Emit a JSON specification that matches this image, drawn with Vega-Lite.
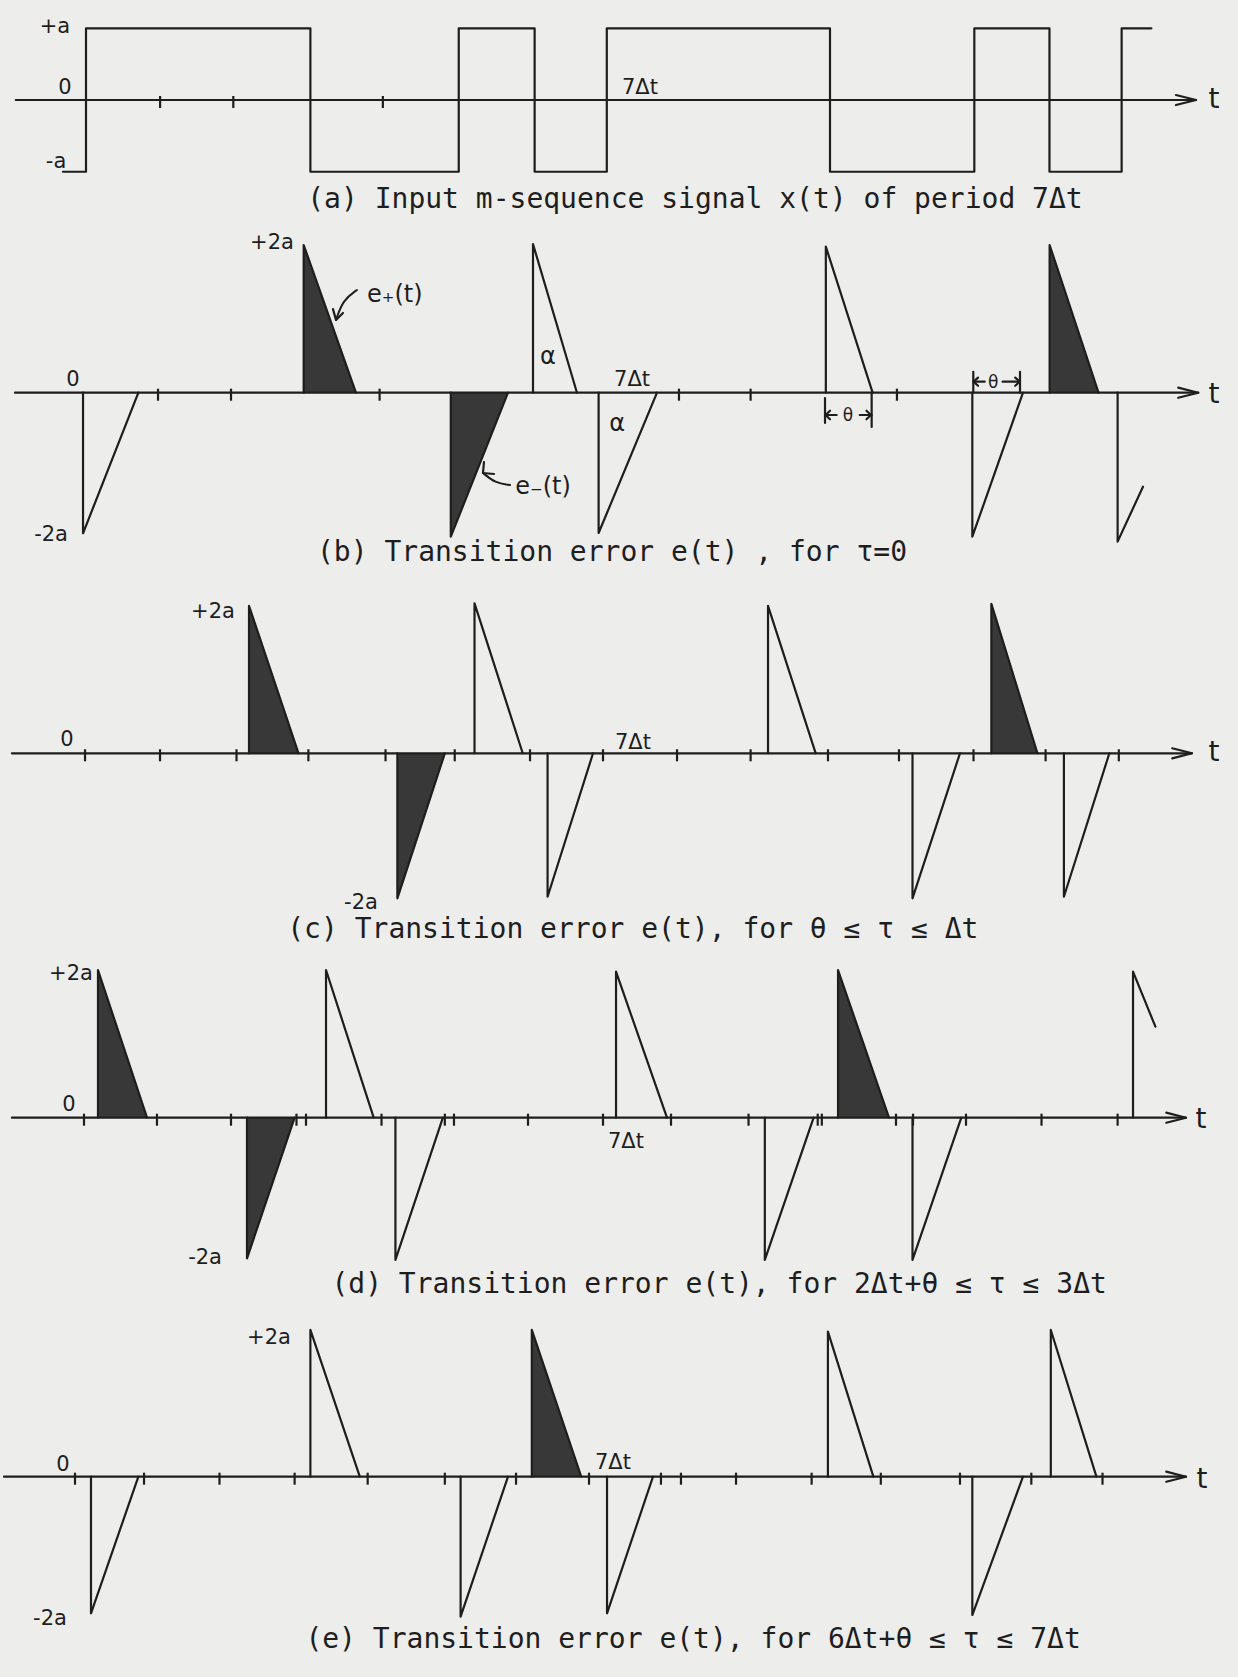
{
 "$schema": "https://vega.github.io/schema/vega-lite/v6.json",
 "background": "#ededeb",
 "padding": 0,
 "spacing": 0,
 "bounds": "flush",
 "resolve": {"scale": {"x": "independent", "y": "independent"}},
 "config": {"view": {"stroke": null}},
 "datasets": {
  "lines": [
   {"p":"a","id":"sq","o":1,"t":-0.31,"v":-1},{"p":"a","id":"sq","o":2,"t":0,"v":-1},{"p":"a","id":"sq","o":3,"t":0,"v":1},{"p":"a","id":"sq","o":4,"t":3.016,"v":1},{"p":"a","id":"sq","o":5,"t":3.016,"v":-1},{"p":"a","id":"sq","o":6,"t":5.01,"v":-1},{"p":"a","id":"sq","o":7,"t":5.01,"v":1},{"p":"a","id":"sq","o":8,"t":6.03,"v":1},{"p":"a","id":"sq","o":9,"t":6.03,"v":-1},{"p":"a","id":"sq","o":10,"t":7.0,"v":-1},{"p":"a","id":"sq","o":11,"t":7.0,"v":1},{"p":"a","id":"sq","o":12,"t":10.0,"v":1},{"p":"a","id":"sq","o":13,"t":10.0,"v":-1},{"p":"a","id":"sq","o":14,"t":11.94,"v":-1},{"p":"a","id":"sq","o":15,"t":11.94,"v":1},{"p":"a","id":"sq","o":16,"t":12.95,"v":1},{"p":"a","id":"sq","o":17,"t":12.95,"v":-1},{"p":"a","id":"sq","o":18,"t":13.92,"v":-1},{"p":"a","id":"sq","o":19,"t":13.92,"v":1},{"p":"a","id":"sq","o":20,"t":14.32,"v":1},
   {"p":"a","id":"ax","o":1,"t":-0.944,"v":0},{"p":"a","id":"ax","o":2,"t":14.92,"v":0},
   {"p":"a","id":"ar","o":1,"t":14.65,"v":0.07},{"p":"a","id":"ar","o":2,"t":14.92,"v":0},{"p":"a","id":"ar","o":3,"t":14.65,"v":-0.07},

   {"p":"b","id":"b1","o":1,"t":-0.04,"v":0},{"p":"b","id":"b1","o":2,"t":-0.04,"v":-1.953},{"p":"b","id":"b1","o":3,"t":0.704,"v":0},
   {"p":"b","id":"b2","o":1,"t":2.926,"v":0},{"p":"b","id":"b2","o":2,"t":2.926,"v":2.051},{"p":"b","id":"b2","o":3,"t":3.628,"v":0},
   {"p":"b","id":"b3","o":1,"t":4.903,"v":0},{"p":"b","id":"b3","o":2,"t":4.903,"v":-2.0},{"p":"b","id":"b3","o":3,"t":5.672,"v":0},
   {"p":"b","id":"b4","o":1,"t":6.008,"v":0},{"p":"b","id":"b4","o":2,"t":6.008,"v":2.065},{"p":"b","id":"b4","o":3,"t":6.599,"v":0},
   {"p":"b","id":"b5","o":1,"t":6.89,"v":0},{"p":"b","id":"b5","o":2,"t":6.89,"v":-1.949},{"p":"b","id":"b5","o":3,"t":7.675,"v":0},
   {"p":"b","id":"b6","o":1,"t":9.944,"v":0},{"p":"b","id":"b6","o":2,"t":9.944,"v":2.028},{"p":"b","id":"b6","o":3,"t":10.573,"v":0},
   {"p":"b","id":"b7","o":1,"t":11.913,"v":0},{"p":"b","id":"b7","o":2,"t":11.913,"v":-2.0},{"p":"b","id":"b7","o":3,"t":12.594,"v":0},
   {"p":"b","id":"b8","o":1,"t":12.952,"v":0},{"p":"b","id":"b8","o":2,"t":12.952,"v":2.051},{"p":"b","id":"b8","o":3,"t":13.609,"v":0},
   {"p":"b","id":"b9","o":1,"t":13.866,"v":0},{"p":"b","id":"b9","o":2,"t":13.866,"v":-2.069},{"p":"b","id":"b9","o":3,"t":14.207,"v":-1.306},
   {"p":"b","id":"ax","o":1,"t":-0.954,"v":0},{"p":"b","id":"ax","o":2,"t":14.95,"v":0},
   {"p":"b","id":"ar","o":1,"t":14.68,"v":0.07},{"p":"b","id":"ar","o":2,"t":14.95,"v":0},{"p":"b","id":"ar","o":3,"t":14.68,"v":-0.07},
   {"p":"b","id":"epb","o":1,"t":3.32,"v":1.161},{"p":"b","id":"epb","o":2,"t":3.36,"v":1.01},{"p":"b","id":"epb","o":3,"t":3.454,"v":1.107},
   {"p":"b","id":"emb","o":1,"t":5.349,"v":-0.963},{"p":"b","id":"emb","o":2,"t":5.336,"v":-1.115},{"p":"b","id":"emb","o":3,"t":5.484,"v":-1.129},
   {"p":"b","id":"tl1","o":1,"t":9.933,"v":-0.074},{"p":"b","id":"tl1","o":2,"t":9.933,"v":-0.42},
   {"p":"b","id":"tl2","o":1,"t":10.56,"v":0},{"p":"b","id":"tl2","o":2,"t":10.56,"v":-0.476},
   {"p":"b","id":"tl3","o":1,"t":9.933,"v":-0.31},{"p":"b","id":"tl3","o":2,"t":10.09,"v":-0.31},
   {"p":"b","id":"tl4","o":1,"t":10.4,"v":-0.31},{"p":"b","id":"tl4","o":2,"t":10.56,"v":-0.31},
   {"p":"b","id":"tl5","o":1,"t":10.0,"v":-0.25},{"p":"b","id":"tl5","o":2,"t":9.94,"v":-0.31},{"p":"b","id":"tl5","o":3,"t":10.0,"v":-0.37},
   {"p":"b","id":"tl6","o":1,"t":10.49,"v":-0.25},{"p":"b","id":"tl6","o":2,"t":10.55,"v":-0.31},{"p":"b","id":"tl6","o":3,"t":10.49,"v":-0.37},
   {"p":"b","id":"tu1","o":1,"t":11.926,"v":0.29},{"p":"b","id":"tu1","o":2,"t":11.926,"v":0},
   {"p":"b","id":"tu2","o":1,"t":12.554,"v":0.29},{"p":"b","id":"tu2","o":2,"t":12.554,"v":0},
   {"p":"b","id":"tu3","o":1,"t":11.926,"v":0.153},{"p":"b","id":"tu3","o":2,"t":12.08,"v":0.153},
   {"p":"b","id":"tu4","o":1,"t":12.32,"v":0.153},{"p":"b","id":"tu4","o":2,"t":12.554,"v":0.153},
   {"p":"b","id":"tu5","o":1,"t":11.99,"v":0.21},{"p":"b","id":"tu5","o":2,"t":11.93,"v":0.153},{"p":"b","id":"tu5","o":3,"t":11.99,"v":0.096},
   {"p":"b","id":"tu6","o":1,"t":12.49,"v":0.21},{"p":"b","id":"tu6","o":2,"t":12.55,"v":0.153},{"p":"b","id":"tu6","o":3,"t":12.49,"v":0.096},

   {"p":"c","id":"c1","o":1,"t":2.191,"v":0},{"p":"c","id":"c1","o":2,"t":2.191,"v":2.046},{"p":"c","id":"c1","o":3,"t":2.856,"v":0},
   {"p":"c","id":"c2","o":1,"t":4.185,"v":0},{"p":"c","id":"c2","o":2,"t":4.185,"v":-2.014},{"p":"c","id":"c2","o":3,"t":4.823,"v":0},
   {"p":"c","id":"c3","o":1,"t":5.222,"v":0},{"p":"c","id":"c3","o":2,"t":5.222,"v":2.083},{"p":"c","id":"c3","o":3,"t":5.87,"v":0},
   {"p":"c","id":"c4","o":1,"t":6.204,"v":0},{"p":"c","id":"c4","o":2,"t":6.204,"v":-1.992},{"p":"c","id":"c4","o":3,"t":6.815,"v":0},
   {"p":"c","id":"c5","o":1,"t":9.167,"v":0},{"p":"c","id":"c5","o":2,"t":9.167,"v":2.046},{"p":"c","id":"c5","o":3,"t":9.808,"v":0},
   {"p":"c","id":"c6","o":1,"t":11.109,"v":0},{"p":"c","id":"c6","o":2,"t":11.109,"v":-2.014},{"p":"c","id":"c6","o":3,"t":11.747,"v":0},
   {"p":"c","id":"c7","o":1,"t":12.169,"v":0},{"p":"c","id":"c7","o":2,"t":12.169,"v":2.074},{"p":"c","id":"c7","o":3,"t":12.788,"v":0},
   {"p":"c","id":"c8","o":1,"t":13.144,"v":0},{"p":"c","id":"c8","o":2,"t":13.144,"v":-1.992},{"p":"c","id":"c8","o":3,"t":13.755,"v":0},
   {"p":"c","id":"ax","o":1,"t":-0.996,"v":0},{"p":"c","id":"ax","o":2,"t":14.866,"v":0},
   {"p":"c","id":"ar","o":1,"t":14.6,"v":0.07},{"p":"c","id":"ar","o":2,"t":14.866,"v":0},{"p":"c","id":"ar","o":3,"t":14.6,"v":-0.07},

   {"p":"d","id":"d1","o":1,"t":0.161,"v":0},{"p":"d","id":"d1","o":2,"t":0.161,"v":2.051},{"p":"d","id":"d1","o":3,"t":0.82,"v":0},
   {"p":"d","id":"d2","o":1,"t":2.164,"v":0},{"p":"d","id":"d2","o":2,"t":2.164,"v":-1.953},{"p":"d","id":"d2","o":3,"t":2.804,"v":0},
   {"p":"d","id":"d3","o":1,"t":3.226,"v":0},{"p":"d","id":"d3","o":2,"t":3.226,"v":2.051},{"p":"d","id":"d3","o":3,"t":3.867,"v":0},
   {"p":"d","id":"d4","o":1,"t":4.159,"v":0},{"p":"d","id":"d4","o":2,"t":4.159,"v":-1.976},{"p":"d","id":"d4","o":3,"t":4.797,"v":0},
   {"p":"d","id":"d5","o":1,"t":7.124,"v":0},{"p":"d","id":"d5","o":2,"t":7.124,"v":2.028},{"p":"d","id":"d5","o":3,"t":7.809,"v":0},
   {"p":"d","id":"d6","o":1,"t":9.124,"v":0},{"p":"d","id":"d6","o":2,"t":9.124,"v":-1.976},{"p":"d","id":"d6","o":3,"t":9.78,"v":0},
   {"p":"d","id":"d7","o":1,"t":10.108,"v":0},{"p":"d","id":"d7","o":2,"t":10.108,"v":2.051},{"p":"d","id":"d7","o":3,"t":10.793,"v":0},
   {"p":"d","id":"d8","o":1,"t":11.109,"v":0},{"p":"d","id":"d8","o":2,"t":11.109,"v":-1.976},{"p":"d","id":"d8","o":3,"t":11.765,"v":0},
   {"p":"d","id":"d9","o":1,"t":14.073,"v":0},{"p":"d","id":"d9","o":2,"t":14.073,"v":2.028},{"p":"d","id":"d9","o":3,"t":14.374,"v":1.264},
   {"p":"d","id":"ax","o":1,"t":-0.996,"v":0},{"p":"d","id":"ax","o":2,"t":14.785,"v":0},
   {"p":"d","id":"ar","o":1,"t":14.52,"v":0.07},{"p":"d","id":"ar","o":2,"t":14.785,"v":0},{"p":"d","id":"ar","o":3,"t":14.52,"v":-0.07},

   {"p":"e","id":"e1","o":1,"t":0.067,"v":0},{"p":"e","id":"e1","o":2,"t":0.067,"v":-1.897},{"p":"e","id":"e1","o":3,"t":0.704,"v":0},
   {"p":"e","id":"e2","o":1,"t":3.016,"v":0},{"p":"e","id":"e2","o":2,"t":3.016,"v":2.038},{"p":"e","id":"e2","o":3,"t":3.68,"v":0},
   {"p":"e","id":"e3","o":1,"t":5.035,"v":0},{"p":"e","id":"e3","o":2,"t":5.035,"v":-1.944},{"p":"e","id":"e3","o":3,"t":5.672,"v":0},
   {"p":"e","id":"e4","o":1,"t":5.992,"v":0},{"p":"e","id":"e4","o":2,"t":5.992,"v":2.038},{"p":"e","id":"e4","o":3,"t":6.656,"v":0},
   {"p":"e","id":"e5","o":1,"t":7.003,"v":0},{"p":"e","id":"e5","o":2,"t":7.003,"v":-1.897},{"p":"e","id":"e5","o":3,"t":7.621,"v":0},
   {"p":"e","id":"e6","o":1,"t":9.972,"v":0},{"p":"e","id":"e6","o":2,"t":9.972,"v":2.014},{"p":"e","id":"e6","o":3,"t":10.583,"v":0},
   {"p":"e","id":"e7","o":1,"t":11.913,"v":0},{"p":"e","id":"e7","o":2,"t":11.913,"v":-1.921},{"p":"e","id":"e7","o":3,"t":12.594,"v":0},
   {"p":"e","id":"e8","o":1,"t":12.968,"v":0},{"p":"e","id":"e8","o":2,"t":12.968,"v":2.038},{"p":"e","id":"e8","o":3,"t":13.581,"v":0},
   {"p":"e","id":"ax","o":1,"t":-1.102,"v":0},{"p":"e","id":"ax","o":2,"t":14.785,"v":0},
   {"p":"e","id":"ar","o":1,"t":14.52,"v":0.07},{"p":"e","id":"ar","o":2,"t":14.785,"v":0},{"p":"e","id":"ar","o":3,"t":14.52,"v":-0.07}
  ],
  "curves": [
   {"p":"b","id":"ep","o":1,"t":3.642,"v":1.426},{"p":"b","id":"ep","o":2,"t":3.454,"v":1.288},{"p":"b","id":"ep","o":3,"t":3.36,"v":1.01},
   {"p":"b","id":"em","o":1,"t":5.699,"v":-1.282},{"p":"b","id":"em","o":2,"t":5.497,"v":-1.254},{"p":"b","id":"em","o":3,"t":5.336,"v":-1.115}
  ],
  "fills": [
   {"p":"b","id":"b2","t":2.926,"v":2.051},{"p":"b","id":"b2","t":3.628,"v":0},
   {"p":"b","id":"b3","t":4.903,"v":-2.0},{"p":"b","id":"b3","t":5.672,"v":0},
   {"p":"b","id":"b8","t":12.952,"v":2.051},{"p":"b","id":"b8","t":13.609,"v":0},
   {"p":"c","id":"c1","t":2.191,"v":2.046},{"p":"c","id":"c1","t":2.856,"v":0},
   {"p":"c","id":"c2","t":4.185,"v":-2.014},{"p":"c","id":"c2","t":4.823,"v":0},
   {"p":"c","id":"c7","t":12.169,"v":2.074},{"p":"c","id":"c7","t":12.788,"v":0},
   {"p":"d","id":"d1","t":0.161,"v":2.051},{"p":"d","id":"d1","t":0.82,"v":0},
   {"p":"d","id":"d2","t":2.164,"v":-1.953},{"p":"d","id":"d2","t":2.804,"v":0},
   {"p":"d","id":"d7","t":10.108,"v":2.051},{"p":"d","id":"d7","t":10.793,"v":0},
   {"p":"e","id":"e4","t":5.992,"v":2.038},{"p":"e","id":"e4","t":6.656,"v":0}
  ],
  "ticks": [
   {"p":"a","t":0.996,"v":0},{"p":"a","t":1.98,"v":0},{"p":"a","t":3.99,"v":0},
   {"p":"b","t":0.968,"v":0},{"p":"b","t":1.949,"v":0},{"p":"b","t":3.946,"v":0},{"p":"b","t":7.97,"v":0},{"p":"b","t":8.933,"v":0},{"p":"b","t":10.9,"v":0},
   {"p":"c","t":-0.013,"v":0},{"p":"c","t":0.995,"v":0},{"p":"c","t":2.023,"v":0},{"p":"c","t":2.989,"v":0},{"p":"c","t":4.026,"v":0},{"p":"c","t":4.956,"v":0},{"p":"c","t":5.968,"v":0},{"p":"c","t":6.949,"v":0},{"p":"c","t":7.944,"v":0},{"p":"c","t":8.933,"v":0},{"p":"c","t":9.973,"v":0},{"p":"c","t":10.927,"v":0},{"p":"c","t":11.929,"v":0},{"p":"c","t":12.898,"v":0},{"p":"c","t":13.882,"v":0},
   {"p":"d","t":-0.027,"v":0},{"p":"d","t":0.954,"v":0},{"p":"d","t":1.949,"v":0},{"p":"d","t":2.829,"v":0},{"p":"d","t":2.957,"v":0},{"p":"d","t":3.972,"v":0},{"p":"d","t":4.823,"v":0},{"p":"d","t":4.946,"v":0},{"p":"d","t":5.941,"v":0},{"p":"d","t":6.949,"v":0},{"p":"d","t":7.863,"v":0},{"p":"d","t":8.905,"v":0},{"p":"d","t":9.835,"v":0},{"p":"d","t":9.89,"v":0},{"p":"d","t":10.887,"v":0},{"p":"d","t":11.116,"v":0},{"p":"d","t":11.828,"v":0},{"p":"d","t":12.843,"v":0},{"p":"d","t":13.866,"v":0},
   {"p":"e","t":-0.148,"v":0},{"p":"e","t":0.78,"v":0},{"p":"e","t":1.794,"v":0},{"p":"e","t":2.804,"v":0},{"p":"e","t":3.786,"v":0},{"p":"e","t":4.823,"v":0},{"p":"e","t":5.78,"v":0},{"p":"e","t":6.761,"v":0},{"p":"e","t":7.728,"v":0},{"p":"e","t":7.997,"v":0},{"p":"e","t":8.737,"v":0},{"p":"e","t":9.753,"v":0},{"p":"e","t":10.683,"v":0},{"p":"e","t":11.747,"v":0},{"p":"e","t":12.706,"v":0},{"p":"e","t":13.663,"v":0}
  ],
  "labels": [
   {"p":"a","k":"lab","t":-0.417,"v":1.018,"s":"+a"},
   {"p":"a","k":"lab","t":-0.282,"v":0.167,"s":"0"},
   {"p":"a","k":"lab","t":-0.403,"v":-0.865,"s":"-a"},
   {"p":"a","k":"lab","t":7.446,"v":0.167,"s":"7Δt"},
   {"p":"a","k":"ax","t":15.16,"v":0,"s":"t"},
   {"p":"a","k":"cap","t":8.185,"v":-1.395,"s":"(a) Input m-sequence signal x(t) of period 7Δt"},
   {"p":"b","k":"lab","t":2.5,"v":2.079,"s":"+2a"},
   {"p":"b","k":"lab","t":-0.175,"v":0.176,"s":"0"},
   {"p":"b","k":"lab","t":-0.47,"v":-1.976,"s":"-2a"},
   {"p":"b","k":"lab","t":7.34,"v":0.176,"s":"7Δt"},
   {"p":"b","k":"gr","t":6.21,"v":0.496,"s":"α"},
   {"p":"b","k":"gr","t":7.14,"v":-0.435,"s":"α"},
   {"p":"b","k":"gr","t":4.15,"v":1.355,"s":"e₊(t)"},
   {"p":"b","k":"gr","t":6.143,"v":-1.31,"s":"e₋(t)"},
   {"p":"b","k":"th","t":10.242,"v":-0.324,"s":"θ"},
   {"p":"b","k":"th","t":12.195,"v":0.135,"s":"θ"},
   {"p":"b","k":"ax","t":15.16,"v":-0.03,"s":"t"},
   {"p":"b","k":"cap","t":7.07,"v":-2.226,"s":"(b) Transition error e(t) , for   τ=0"},
   {"p":"c","k":"lab","t":1.707,"v":1.968,"s":"+2a"},
   {"p":"c","k":"lab","t":-0.255,"v":0.185,"s":"0"},
   {"p":"c","k":"lab","t":3.696,"v":-2.079,"s":"-2a"},
   {"p":"c","k":"lab","t":7.352,"v":0.143,"s":"7Δt"},
   {"p":"c","k":"ax","t":15.16,"v":0,"s":"t"},
   {"p":"c","k":"cap","t":7.35,"v":-2.454,"s":"(c)  Transition error e(t), for  θ ≤ τ ≤ Δt"},
   {"p":"d","k":"lab","t":-0.202,"v":1.996,"s":"+2a"},
   {"p":"d","k":"lab","t":-0.228,"v":0.176,"s":"0"},
   {"p":"d","k":"lab","t":1.6,"v":-1.949,"s":"-2a"},
   {"p":"d","k":"lab","t":7.258,"v":-0.338,"s":"7Δt"},
   {"p":"d","k":"ax","t":14.987,"v":-0.032,"s":"t"},
   {"p":"d","k":"cap","t":8.51,"v":-2.324,"s":"(d) Transition error e(t), for 2Δt+θ ≤ τ ≤ 3Δt"},
   {"p":"e","k":"lab","t":2.46,"v":1.926,"s":"+2a"},
   {"p":"e","k":"lab","t":-0.309,"v":0.163,"s":"0"},
   {"p":"e","k":"lab","t":-0.484,"v":-1.976,"s":"-2a"},
   {"p":"e","k":"lab","t":7.083,"v":0.19,"s":"7Δt"},
   {"p":"e","k":"ax","t":15.0,"v":-0.046,"s":"t"},
   {"p":"e","k":"cap","t":8.16,"v":-2.268,"s":"(e) Transition error e(t), for 6Δt+θ ≤ τ ≤ 7Δt"}
  ]
 },
 "vconcat": [
  {
   "width": 1238, "height": 225,
   "encoding": {
    "x": {"field":"t","type":"quantitative","scale":{"domain":[-1.156,15.484],"nice":false,"zero":false},"axis":null},
    "y": {"field":"v","type":"quantitative","scale":{"domain":[-1.743,1.395],"nice":false,"zero":false},"axis":null}
   },
   "layer": [
    {"data":{"name":"lines"},"transform":[{"filter":"datum.p=='a'"}],"mark":{"type":"line","stroke":"#1e1e1e","strokeWidth":2.2,"strokeCap":"round","strokeJoin":"round"},"encoding":{"detail":{"field":"id"},"order":{"field":"o","type":"quantitative"}}},
    {"data":{"name":"ticks"},"transform":[{"filter":"datum.p=='a'"}],"mark":{"type":"tick","orient":"vertical","size":12,"thickness":2.2,"yOffset":2,"color":"#1e1e1e","opacity":1}},
    {"data":{"name":"labels"},"transform":[{"filter":"datum.p=='a' && datum.k=='lab'"}],"mark":{"type":"text","font":"DejaVu Sans","fontSize":21,"align":"center","baseline":"middle","color":"#1e1e1e"},"encoding":{"text":{"field":"s"}}},
    {"data":{"name":"labels"},"transform":[{"filter":"datum.p=='a' && datum.k=='ax'"}],"mark":{"type":"text","font":"DejaVu Sans","fontSize":28,"align":"center","baseline":"middle","color":"#1e1e1e"},"encoding":{"text":{"field":"s"}}},
    {"data":{"name":"labels"},"transform":[{"filter":"datum.p=='a' && datum.k=='cap'"}],"mark":{"type":"text","font":"DejaVu Sans Mono","fontSize":28,"align":"center","baseline":"middle","color":"#1e1e1e"},"encoding":{"text":{"field":"s"}}}
   ]
  },
  {
   "width": 1238, "height": 350,
   "encoding": {
    "x": {"field":"t","type":"quantitative","scale":{"domain":[-1.156,15.484],"nice":false,"zero":false},"axis":null},
    "y": {"field":"v","type":"quantitative","scale":{"domain":[-2.532,2.329],"nice":false,"zero":false},"axis":null}
   },
   "layer": [
    {"data":{"name":"fills"},"transform":[{"filter":"datum.p=='b'"}],"mark":{"type":"area","color":"#383838"},"encoding":{"y2":{"datum":0},"detail":{"field":"id"}}},
    {"data":{"name":"lines"},"transform":[{"filter":"datum.p=='b'"}],"mark":{"type":"line","stroke":"#1e1e1e","strokeWidth":2.2,"strokeCap":"round","strokeJoin":"round"},"encoding":{"detail":{"field":"id"},"order":{"field":"o","type":"quantitative"}}},
    {"data":{"name":"curves"},"transform":[{"filter":"datum.p=='b'"}],"mark":{"type":"line","stroke":"#1e1e1e","strokeWidth":2,"interpolate":"basis","strokeCap":"round"},"encoding":{"detail":{"field":"id"},"order":{"field":"o","type":"quantitative"}}},
    {"data":{"name":"ticks"},"transform":[{"filter":"datum.p=='b'"}],"mark":{"type":"tick","orient":"vertical","size":12,"thickness":2.2,"yOffset":2,"color":"#1e1e1e","opacity":1}},
    {"data":{"name":"labels"},"transform":[{"filter":"datum.p=='b' && datum.k=='lab'"}],"mark":{"type":"text","font":"DejaVu Sans","fontSize":21,"align":"center","baseline":"middle","color":"#1e1e1e"},"encoding":{"text":{"field":"s"}}},
    {"data":{"name":"labels"},"transform":[{"filter":"datum.p=='b' && datum.k=='gr'"}],"mark":{"type":"text","font":"DejaVu Sans","fontSize":24,"align":"center","baseline":"middle","color":"#1e1e1e"},"encoding":{"text":{"field":"s"}}},
    {"data":{"name":"labels"},"transform":[{"filter":"datum.p=='b' && datum.k=='th'"}],"mark":{"type":"text","font":"DejaVu Sans","fontSize":17,"align":"center","baseline":"middle","color":"#1e1e1e"},"encoding":{"text":{"field":"s"}}},
    {"data":{"name":"labels"},"transform":[{"filter":"datum.p=='b' && datum.k=='ax'"}],"mark":{"type":"text","font":"DejaVu Sans","fontSize":28,"align":"center","baseline":"middle","color":"#1e1e1e"},"encoding":{"text":{"field":"s"}}},
    {"data":{"name":"labels"},"transform":[{"filter":"datum.p=='b' && datum.k=='cap'"}],"mark":{"type":"text","font":"DejaVu Sans Mono","fontSize":28,"align":"center","baseline":"middle","color":"#1e1e1e"},"encoding":{"text":{"field":"s"}}}
   ]
  },
  {
   "width": 1238, "height": 365,
   "encoding": {
    "x": {"field":"t","type":"quantitative","scale":{"domain":[-1.156,15.484],"nice":false,"zero":false},"axis":null},
    "y": {"field":"v","type":"quantitative","scale":{"domain":[-2.593,2.476],"nice":false,"zero":false},"axis":null}
   },
   "layer": [
    {"data":{"name":"fills"},"transform":[{"filter":"datum.p=='c'"}],"mark":{"type":"area","color":"#383838"},"encoding":{"y2":{"datum":0},"detail":{"field":"id"}}},
    {"data":{"name":"lines"},"transform":[{"filter":"datum.p=='c'"}],"mark":{"type":"line","stroke":"#1e1e1e","strokeWidth":2.2,"strokeCap":"round","strokeJoin":"round"},"encoding":{"detail":{"field":"id"},"order":{"field":"o","type":"quantitative"}}},
    {"data":{"name":"ticks"},"transform":[{"filter":"datum.p=='c'"}],"mark":{"type":"tick","orient":"vertical","size":12,"thickness":2.2,"yOffset":2,"color":"#1e1e1e","opacity":1}},
    {"data":{"name":"labels"},"transform":[{"filter":"datum.p=='c' && datum.k=='lab'"}],"mark":{"type":"text","font":"DejaVu Sans","fontSize":21,"align":"center","baseline":"middle","color":"#1e1e1e"},"encoding":{"text":{"field":"s"}}},
    {"data":{"name":"labels"},"transform":[{"filter":"datum.p=='c' && datum.k=='ax'"}],"mark":{"type":"text","font":"DejaVu Sans","fontSize":28,"align":"center","baseline":"middle","color":"#1e1e1e"},"encoding":{"text":{"field":"s"}}},
    {"data":{"name":"labels"},"transform":[{"filter":"datum.p=='c' && datum.k=='cap'"}],"mark":{"type":"text","font":"DejaVu Sans Mono","fontSize":28,"align":"center","baseline":"middle","color":"#1e1e1e"},"encoding":{"text":{"field":"s"}}}
   ]
  },
  {
   "width": 1238, "height": 360,
   "encoding": {
    "x": {"field":"t","type":"quantitative","scale":{"domain":[-1.156,15.484],"nice":false,"zero":false},"axis":null},
    "y": {"field":"v","type":"quantitative","scale":{"domain":[-2.532,2.468],"nice":false,"zero":false},"axis":null}
   },
   "layer": [
    {"data":{"name":"fills"},"transform":[{"filter":"datum.p=='d'"}],"mark":{"type":"area","color":"#383838"},"encoding":{"y2":{"datum":0},"detail":{"field":"id"}}},
    {"data":{"name":"lines"},"transform":[{"filter":"datum.p=='d'"}],"mark":{"type":"line","stroke":"#1e1e1e","strokeWidth":2.2,"strokeCap":"round","strokeJoin":"round"},"encoding":{"detail":{"field":"id"},"order":{"field":"o","type":"quantitative"}}},
    {"data":{"name":"ticks"},"transform":[{"filter":"datum.p=='d'"}],"mark":{"type":"tick","orient":"vertical","size":12,"thickness":2.2,"yOffset":2,"color":"#1e1e1e","opacity":1}},
    {"data":{"name":"labels"},"transform":[{"filter":"datum.p=='d' && datum.k=='lab'"}],"mark":{"type":"text","font":"DejaVu Sans","fontSize":21,"align":"center","baseline":"middle","color":"#1e1e1e"},"encoding":{"text":{"field":"s"}}},
    {"data":{"name":"labels"},"transform":[{"filter":"datum.p=='d' && datum.k=='ax'"}],"mark":{"type":"text","font":"DejaVu Sans","fontSize":28,"align":"center","baseline":"middle","color":"#1e1e1e"},"encoding":{"text":{"field":"s"}}},
    {"data":{"name":"labels"},"transform":[{"filter":"datum.p=='d' && datum.k=='cap'"}],"mark":{"type":"text","font":"DejaVu Sans Mono","fontSize":28,"align":"center","baseline":"middle","color":"#1e1e1e"},"encoding":{"text":{"field":"s"}}}
   ]
  },
  {
   "width": 1238, "height": 377,
   "encoding": {
    "x": {"field":"t","type":"quantitative","scale":{"domain":[-1.156,15.484],"nice":false,"zero":false},"axis":null},
    "y": {"field":"v","type":"quantitative","scale":{"domain":[-2.782,2.454],"nice":false,"zero":false},"axis":null}
   },
   "layer": [
    {"data":{"name":"fills"},"transform":[{"filter":"datum.p=='e'"}],"mark":{"type":"area","color":"#383838"},"encoding":{"y2":{"datum":0},"detail":{"field":"id"}}},
    {"data":{"name":"lines"},"transform":[{"filter":"datum.p=='e'"}],"mark":{"type":"line","stroke":"#1e1e1e","strokeWidth":2.2,"strokeCap":"round","strokeJoin":"round"},"encoding":{"detail":{"field":"id"},"order":{"field":"o","type":"quantitative"}}},
    {"data":{"name":"ticks"},"transform":[{"filter":"datum.p=='e'"}],"mark":{"type":"tick","orient":"vertical","size":12,"thickness":2.2,"yOffset":2,"color":"#1e1e1e","opacity":1}},
    {"data":{"name":"labels"},"transform":[{"filter":"datum.p=='e' && datum.k=='lab'"}],"mark":{"type":"text","font":"DejaVu Sans","fontSize":21,"align":"center","baseline":"middle","color":"#1e1e1e"},"encoding":{"text":{"field":"s"}}},
    {"data":{"name":"labels"},"transform":[{"filter":"datum.p=='e' && datum.k=='ax'"}],"mark":{"type":"text","font":"DejaVu Sans","fontSize":28,"align":"center","baseline":"middle","color":"#1e1e1e"},"encoding":{"text":{"field":"s"}}},
    {"data":{"name":"labels"},"transform":[{"filter":"datum.p=='e' && datum.k=='cap'"}],"mark":{"type":"text","font":"DejaVu Sans Mono","fontSize":28,"align":"center","baseline":"middle","color":"#1e1e1e"},"encoding":{"text":{"field":"s"}}}
   ]
  }
 ]
}
